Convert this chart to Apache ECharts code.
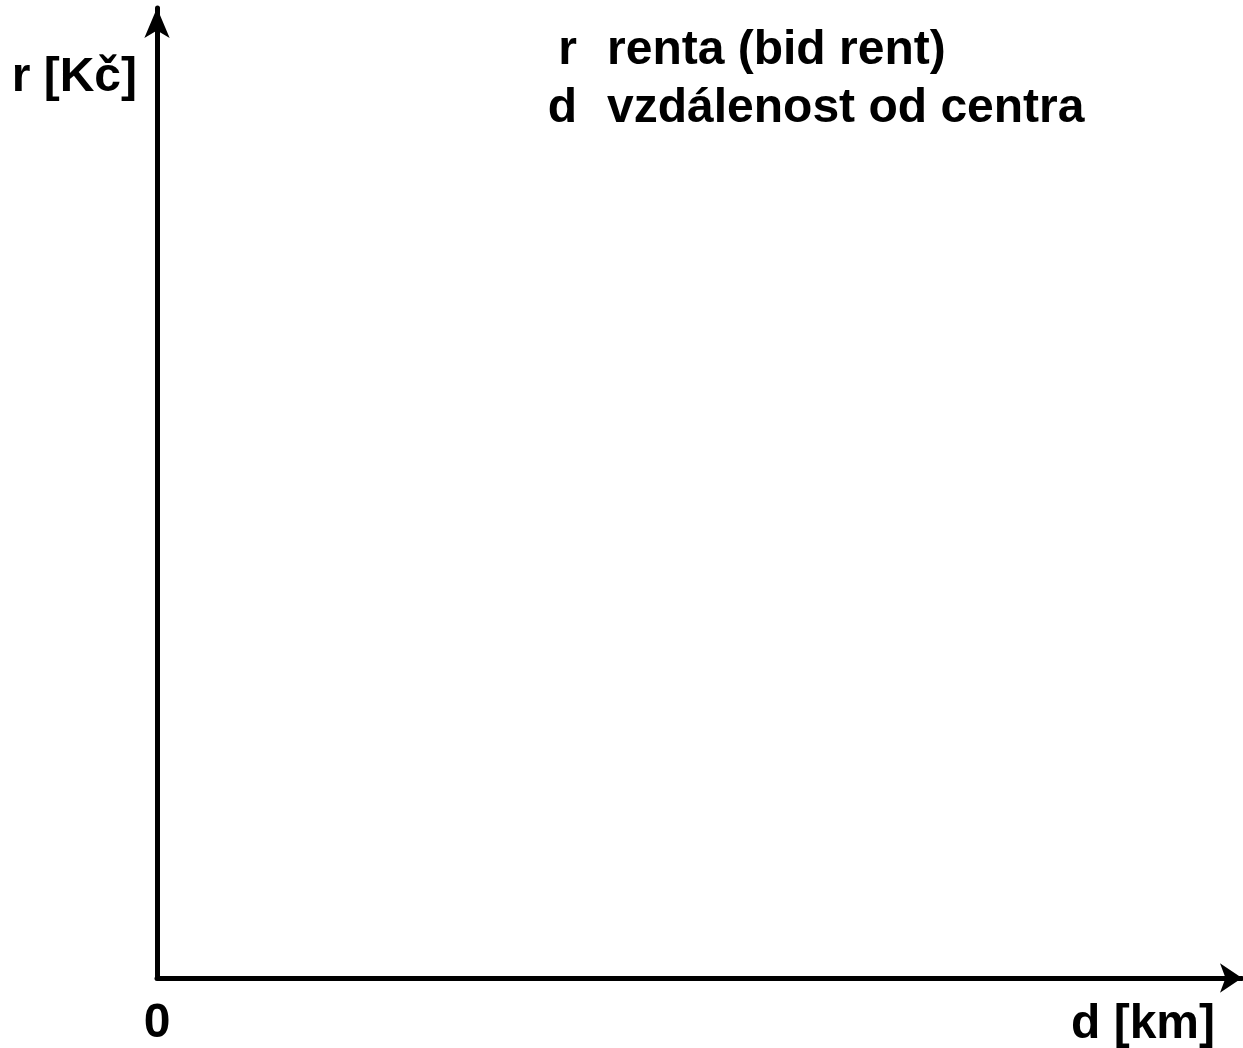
<!DOCTYPE html>
<html>
<head>
<meta charset="utf-8">
<script src="https://cdn.jsdelivr.net/npm/echarts@6/dist/echarts.min.js"></script>
<style>
html, body { margin: 0; padding: 0; background: #fff; }
#chart { width: 1243px; height: 1048px; }
</style>
</head>
<body>
<div id="chart"></div>
<script>
// empty bid-rent axes: only the 0 tick, axis names and a small key
const xTickLabels = [0];
const xName = 'd [km]';
const yName = 'r [Kč]';
const keySymbols = ['r', 'd'];
const keyTexts = ['renta (bid rent)', 'vzdálenost od centra'];

const FONT = 'bold 48px "Liberation Sans", Arial, sans-serif';

const myChart = echarts.init(document.getElementById('chart'));

let graphics = [];
keySymbols.forEach((s, i) => {
    graphics.push({
        type: 'text', x: 577, y: 51 + i * 58,
        style: { text: s, font: FONT, fill: '#000', align: 'right', verticalAlign: 'middle' }
    });
    graphics.push({
        type: 'text', x: 607, y: 51 + i * 58,
        style: { text: keyTexts[i], font: FONT, fill: '#000', align: 'left', verticalAlign: 'middle' }
    });
});
graphics.push({
    type: 'text', x: 137, y: 78,
    style: { text: yName, font: FONT, fill: '#000', align: 'right', verticalAlign: 'middle' }
});
graphics.push({
    type: 'text', x: 1215, y: 1025,
    style: { text: xName, font: FONT, fill: '#000', align: 'right', verticalAlign: 'middle' }
});

const option = {
    animation: false,
    grid: { left: 157, right: 1, top: 8, bottom: 69, containLabel: false },
    xAxis: {
        type: 'value', min: 0, max: 10,
        axisLine: {
            show: true,
            lineStyle: { color: '#000', width: 5 },
            symbol: ['none', 'arrow'],
            symbolSize: [22, 22]
        },
        axisTick: { show: false },
        splitLine: { show: false },
        axisLabel: {
            customValues: xTickLabels,
            margin: 22,
            color: '#000',
            fontSize: 48,
            fontWeight: 'bold',
            fontFamily: '"Liberation Sans", Arial, sans-serif'
        }
    },
    yAxis: {
        type: 'value', min: 0, max: 10,
        axisLine: {
            show: true,
            lineStyle: { color: '#000', width: 5 },
            symbol: ['none', 'arrow'],
            symbolSize: [19, 30]
        },
        axisTick: { show: false },
        splitLine: { show: false },
        axisLabel: { show: false }
    },
    graphic: graphics,
    series: []
};

myChart.setOption(option);
</script>
</body>
</html>
